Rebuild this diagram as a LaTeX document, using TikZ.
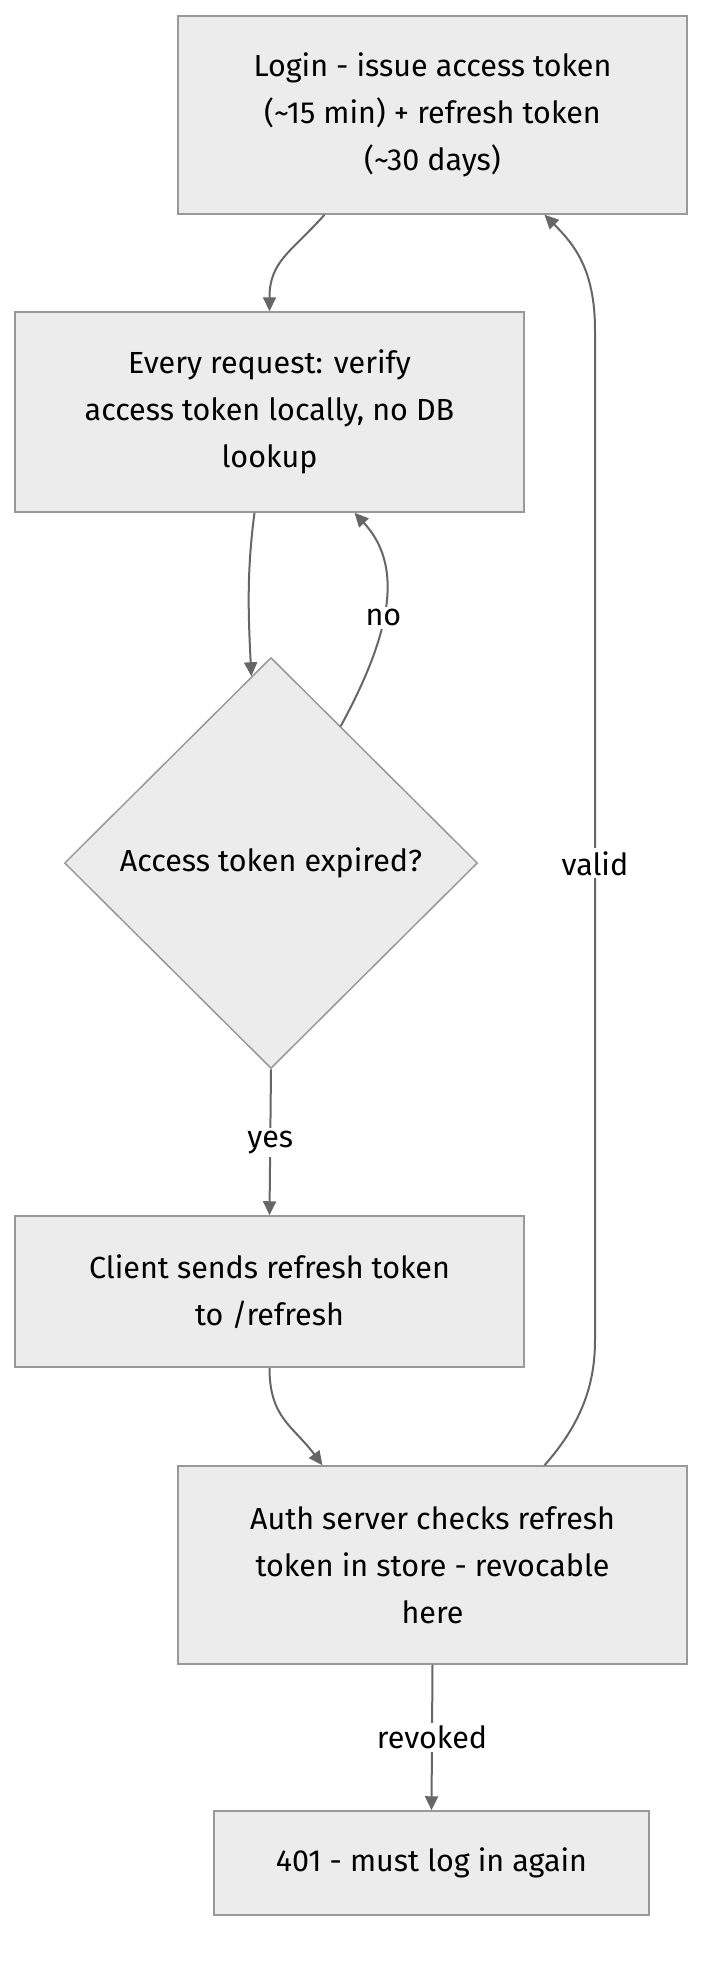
\documentclass[tikz,border=0pt]{standalone}
\usepackage{fontspec}
\setmainfont{Fira Sans}
\usetikzlibrary{shapes.geometric,arrows.meta}
\definecolor{boxfill}{HTML}{ECECEC}
\definecolor{boxline}{HTML}{999999}
\definecolor{edgecol}{HTML}{666666}
\begin{document}
\begin{tikzpicture}[x=1pt,y=-1pt,
  every node/.style={font=\fontsize{30.5}{47}\selectfont},
  box/.style={draw=boxline, fill=boxfill, line width=1.5pt, align=center, inner sep=0pt},
  dec/.style={diamond, draw=boxline, fill=boxfill, line width=1.5pt, inner sep=0pt, minimum width=413pt, minimum height=411pt},
  conn/.style={draw=edgecol, line width=2pt, -{Triangle[length=14pt,width=13pt]}},
  lbl/.style={fill=white, inner sep=3pt, text=black}]
\useasboundingbox (0,0) rectangle (718,1976);

\node[box, minimum width=509pt, minimum height=198pt] (login) at (432.5,115)
  {Login - issue access token\\(\textasciitilde15 min) + refresh token\\(\textasciitilde30 days)};
\node[box, minimum width=509pt, minimum height=200pt] (every) at (269.5,412)
  {Every request: verify\\access token locally, no DB\\lookup};
\node[dec] (dec) at (271,863) {Access token expired?};
\node[box, minimum width=509pt, minimum height=151pt] (client) at (269.5,1291.5)
  {Client sends refresh token\\to /refresh};
\node[box, minimum width=509pt, minimum height=198pt] (auth) at (432.5,1565)
  {Auth server checks refresh\\token in store - revocable\\here};
\node[box, minimum width=435pt, minimum height=104pt] (fail) at (431.5,1863)
  {401 - must log in again};

\draw[conn] ([xshift=-108pt]login.south) .. controls +(-34,38) and +(0,-50) .. (every.north);
\draw[conn] ([xshift=-15pt]every.south) .. controls +(-8,60) and +(-3,-60) .. (dec.96);
\draw[conn] (dec.63) .. controls (393,630) and (403,565) .. node[lbl, pos=0.43] {no} ([xshift=85pt]every.south);
\draw[conn] (dec.south) -- node[lbl, midway] {yes} (client.north);
\draw[conn] (client.south) .. controls +(0,50) and +(-30,-40) .. ([xshift=-110pt]auth.north);
\draw[conn] ([xshift=112pt]auth.north) .. controls +(40,-45) and +(0,40) .. (595,1340)
  -- node[lbl, pos=0.472] {valid} (595,330)
  .. controls +(0,-60) and +(30,30) .. ([xshift=112pt]login.south);
\draw[conn] (auth.south) -- node[lbl, midway] {revoked} (fail.north);
\end{tikzpicture}
\end{document}
